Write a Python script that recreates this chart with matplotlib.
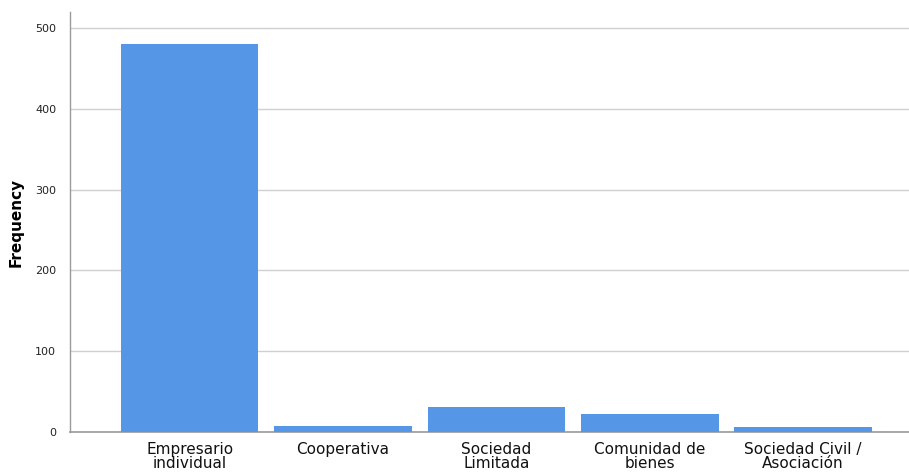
import matplotlib
matplotlib.use("Agg")
import matplotlib.pyplot as plt
import numpy as np

categories = ["Empresario\nindividual", "Cooperativa", "Sociedad\nLimitada",
              "Comunidad de\nbienes", "Sociedad Civil /\nAsociación"]
frequency = [480, 7, 31, 22, 6]
yticks = [0, 100, 200, 300, 400, 500]

fig = plt.figure(figsize=(9.09, 4.76), dpi=100)
ax = fig.add_axes([70/909, 1 - 432/476, 1 - 70/909, (432 - 12)/476])

x = np.arange(len(categories))
ax.bar(x, frequency, width=0.897, color="#5596E6", edgecolor="none", zorder=3)

ax.set_xlim(-0.78, 4.69)
ax.set_ylim(0, 520)
ax.set_yticks(yticks)
ax.set_yticklabels([str(v) for v in yticks], fontsize=8, color="#222222")
ax.set_xticks(x)
ax.set_xticklabels(categories, fontsize=11, color="#111111", linespacing=0.9)
ax.tick_params(axis="x", length=0, pad=7)
ax.tick_params(axis="y", length=0, pad=10)
ax.yaxis.grid(True, color="#d0d0d0", linewidth=1, zorder=0)
ax.set_axisbelow(True)

for s in ["top", "right"]:
    ax.spines[s].set_visible(False)
ax.spines["left"].set_color("#9a9a9a")
ax.spines["bottom"].set_color("#9a9a9a")
ax.spines["left"].set_linewidth(1)
ax.spines["bottom"].set_linewidth(1.2)

ax.set_ylabel("Frequency", fontsize=11, fontweight="bold", labelpad=8)

fig.savefig("out.png", dpi=100)
